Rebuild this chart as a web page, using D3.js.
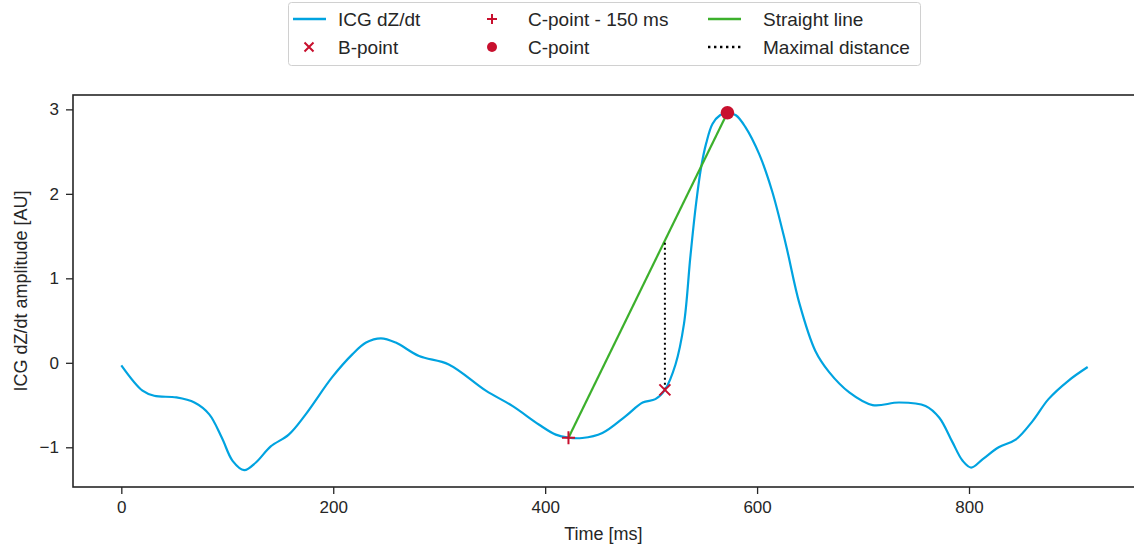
<!DOCTYPE html>
<html>
<head>
<meta charset="utf-8">
<script src="https://cdn.jsdelivr.net/npm/d3@7"></script>
<style>
  body { margin: 0; background: #fff; }
  svg { font-family: "Liberation Sans", Arial, sans-serif; }
</style>
</head>
<body>
<svg id="chart" width="1134" height="550"></svg>
<script>
// ICG dZ/dt signal (time in ms, amplitude in AU)
var timeMs = [0, 20, 31, 52, 69, 83, 95, 105, 116, 127, 141, 158, 174, 199, 218, 231, 245, 259,
  281, 309, 344, 369, 394, 410, 422, 435, 454, 476, 492, 504, 513, 523, 531, 537, 542, 547,
  552, 558, 565, 572, 580, 589, 602, 614, 627, 640, 655, 668, 687, 709, 734, 759, 772, 784, 794,
  802, 813, 828, 844, 860, 875, 894, 912];
var amplitude = [-0.03, -0.33, -0.39, -0.41, -0.47, -0.61, -0.89, -1.16, -1.27, -1.18, -0.99,
  -0.85, -0.61, -0.17, 0.10, 0.24, 0.29, 0.24, 0.08, -0.02, -0.33, -0.51, -0.73, -0.85, -0.886,
  -0.89, -0.83, -0.63, -0.47, -0.43, -0.32, -0.02, 0.46, 1.25, 1.84, 2.30, 2.60, 2.83, 2.93, 2.96,
  2.93, 2.79, 2.47, 2.04, 1.41, 0.70, 0.14, -0.11, -0.35, -0.50, -0.47, -0.51, -0.65, -0.93,
  -1.16, -1.24, -1.14, -1.00, -0.91, -0.69, -0.43, -0.21, -0.05];

// characteristic points
var cPoint = {t: 572, v: 2.96};
var cMinus150 = {t: 422, v: -0.886};
var bPoint = {t: 513, v: -0.32};

var xTicks = [0, 200, 400, 600, 800];
var yTicks = [-1, 0, 1, 2, 3];

var blue = "#00a3e0", red = "#c8102e", green = "#3cb02c";

var margin = {top: 95, right: -2, bottom: 63, left: 73};
var width = 1134 - margin.left - margin.right;
var height = 550 - margin.top - margin.bottom;

var x = d3.scaleLinear().domain([-45.6, 957.6]).range([0, width]);
var y = d3.scaleLinear().domain([-1.47, 3.17]).range([height, 0]);

var svg = d3.select("#chart");
var g = svg.append("g")
    .attr("transform", "translate(" + margin.left + "," + margin.top + ")");

// axes
var xAxis = d3.axisBottom(x).tickValues(xTicks).tickSize(7).tickPadding(7);
var yAxis = d3.axisLeft(y).tickValues(yTicks).tickSize(7).tickPadding(7)
    .tickFormat(function(d) { return d < 0 ? "\u2212" + Math.abs(d) : d; });

g.append("g")
    .attr("transform", "translate(0," + height + ")")
    .call(xAxis);
g.append("g").call(yAxis);

g.selectAll(".tick text").attr("font-size", 17).attr("fill", "#262626");
g.selectAll(".tick line").attr("stroke", "#262626").attr("stroke-width", 1.3);
g.selectAll(".domain").remove();

// frame
g.append("rect")
    .attr("width", width).attr("height", height)
    .attr("fill", "none").attr("stroke", "#262626").attr("stroke-width", 1.6);

// axis labels
svg.append("text")
    .attr("x", margin.left + x(455)).attr("y", 540)
    .attr("text-anchor", "middle").attr("font-size", 18).attr("fill", "#262626")
    .text("Time [ms]");
svg.append("text")
    .attr("transform", "translate(27," + (margin.top + y(0.85)) + ") rotate(-90)")
    .attr("text-anchor", "middle").attr("font-size", 18).attr("fill", "#262626")
    .text("ICG dZ/dt amplitude [AU]");

// signal
var signal = timeMs.map(function(t, i) { return {t: t, v: amplitude[i]}; });
var line = d3.line()
    .x(function(d) { return x(d.t); })
    .y(function(d) { return y(d.v); })
    .curve(d3.curveCatmullRom.alpha(0.5));

g.append("path").datum(signal)
    .attr("d", line)
    .attr("fill", "none").attr("stroke", blue).attr("stroke-width", 2.2);

// straight line between C-150 and C
g.append("path").datum([cMinus150, cPoint])
    .attr("d", d3.line().x(function(d) { return x(d.t); }).y(function(d) { return y(d.v); }))
    .attr("stroke", green).attr("stroke-width", 2.2);

// maximal distance
var lineAtB = cMinus150.v + (bPoint.t - cMinus150.t) / (cPoint.t - cMinus150.t) * (cPoint.v - cMinus150.v);
g.append("line")
    .attr("x1", x(bPoint.t)).attr("x2", x(bPoint.t))
    .attr("y1", y(bPoint.v)).attr("y2", y(lineAtB))
    .attr("stroke", "#000").attr("stroke-width", 2).attr("stroke-dasharray", "2,3");

// markers
function plus(sel, cx, cy, r) {
  sel.append("path")
    .attr("d", "M" + (cx - r) + "," + cy + "H" + (cx + r) + "M" + cx + "," + (cy - r) + "V" + (cy + r))
    .attr("stroke", red).attr("stroke-width", 2);
}
function cross(sel, cx, cy, r) {
  sel.append("path")
    .attr("d", "M" + (cx - r) + "," + (cy - r) + "L" + (cx + r) + "," + (cy + r) +
               "M" + (cx - r) + "," + (cy + r) + "L" + (cx + r) + "," + (cy - r))
    .attr("stroke", red).attr("stroke-width", 2);
}
plus(g, x(cMinus150.t), y(cMinus150.v), 6.5);
cross(g, x(bPoint.t), y(bPoint.v), 5.5);
g.append("circle")
    .attr("cx", x(cPoint.t)).attr("cy", y(cPoint.v)).attr("r", 6.8)
    .attr("fill", red);

// legend
var lg = svg.append("g");
lg.append("rect")
    .attr("x", 288.5).attr("y", 2.5).attr("width", 632).attr("height", 63).attr("rx", 3)
    .attr("fill", "#fff").attr("stroke", "#d0d0d0").attr("stroke-width", 1);

var legendItems = [
  {label: "ICG dZ/dt", kind: "line", color: blue, col: 0, row: 0},
  {label: "B-point", kind: "x", col: 0, row: 1},
  {label: "C-point - 150 ms", kind: "plus", col: 1, row: 0},
  {label: "C-point", kind: "dot", col: 1, row: 1},
  {label: "Straight line", kind: "line", color: green, col: 2, row: 0},
  {label: "Maximal distance", kind: "dotted", col: 2, row: 1}
];
var colX = [293, 476, 708];
var colText = [338, 528, 763];
var rowY = [19, 47];

legendItems.forEach(function(d) {
  var x0 = colX[d.col], cy = rowY[d.row], mid = x0 + 16;
  if (d.kind === "line") {
    lg.append("line").attr("x1", x0).attr("x2", x0 + 33).attr("y1", cy).attr("y2", cy)
      .attr("stroke", d.color).attr("stroke-width", 2.6);
  } else if (d.kind === "dotted") {
    lg.append("line").attr("x1", x0).attr("x2", x0 + 33).attr("y1", cy).attr("y2", cy)
      .attr("stroke", "#000").attr("stroke-width", 2.4).attr("stroke-dasharray", "2.4,3.6");
  } else if (d.kind === "x") {
    cross(lg, mid, cy, 4.5);
  } else if (d.kind === "plus") {
    plus(lg, mid, cy, 5);
  } else if (d.kind === "dot") {
    lg.append("circle").attr("cx", mid).attr("cy", cy).attr("r", 5).attr("fill", red);
  }
  lg.append("text")
    .attr("x", colText[d.col]).attr("y", cy).attr("dy", "0.35em")
    .attr("font-size", 19).attr("fill", "#262626")
    .text(d.label);
});
</script>
</body>
</html>
